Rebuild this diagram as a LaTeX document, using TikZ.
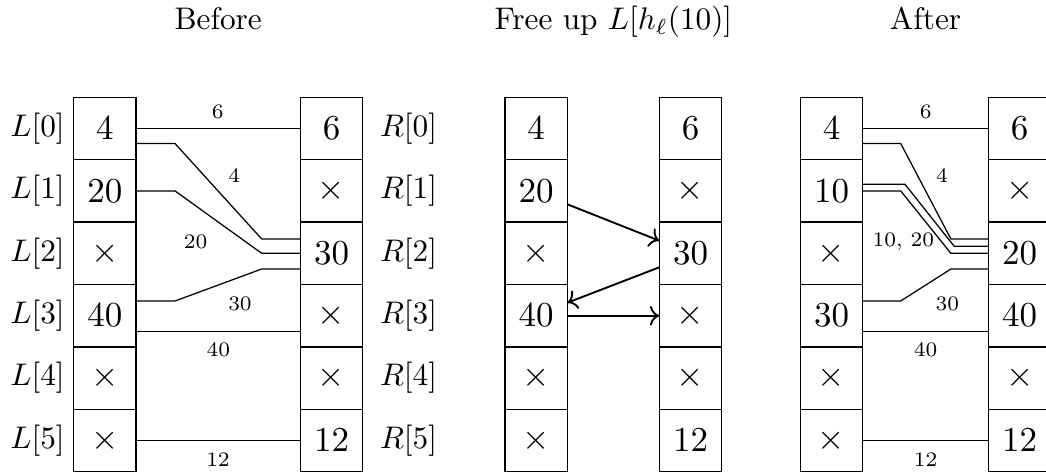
\RequirePackage{fix-cm}
\documentclass[tikz,border=0pt]{standalone}
\usepackage{fontspec}
\usetikzlibrary{calc,arrows.meta}
\begin{document}
\begin{tikzpicture}[x=0.32pt,y=-0.32pt,
  cell/.style={draw, rectangle, minimum width=19.97pt, minimum height=19.97pt,
    inner sep=0pt, outer sep=0pt, font=\fontsize{11.2}{13}\selectfont},
  side/.style={font=\fontsize{10}{12}\selectfont},
  title/.style={anchor=base, font=\fontsize{10}{12}\selectfont},
  lbl/.style={font=\fontsize{6.6}{8}\selectfont, inner sep=0pt},
  link/.style={line width=0.4pt},
  move/.style={semithick, -{To[length=3pt]}}]
\useasboundingbox (0,0) rectangle (1046,473);

% titles
\node[title] (tb) at (218.2,29.5) {Before};
\node[title] (tm) at (613.4,29.5) {Free up $L[h_\ell(10)]$};
\node[title] (ta) at (925.6,29.5) {After};

% cells: before
\foreach \t [count=\i from 0] in {4,20,\times,40,\times,\times}
  \node[cell] (bl\i) at (104.8,128.5+62.4*\i) {$\t$};
\foreach \t [count=\i from 0] in {6,\times,30,\times,\times,12}
  \node[cell] (br\i) at (331.6,128.5+62.4*\i) {$\t$};
% cells: middle
\foreach \t [count=\i from 0] in {4,20,\times,40,\times,\times}
  \node[cell] (ml\i) at (536.2,128.5+62.4*\i) {$\t$};
\foreach \t [count=\i from 0] in {6,\times,30,\times,\times,12}
  \node[cell] (mr\i) at (690.5,128.5+62.4*\i) {$\t$};
% cells: after
\foreach \t [count=\i from 0] in {4,10,\times,30,\times,\times}
  \node[cell] (al\i) at (831.5,128.5+62.4*\i) {$\t$};
\foreach \t [count=\i from 0] in {6,\times,20,40,\times,12}
  \node[cell] (ar\i) at (1019.7,128.5+62.4*\i) {$\t$};

% index labels
\foreach \i in {0,...,5} {
  \node[side] (sl\i) at (37.5,128.5+62.4*\i) {$L[\i]$};
  \node[side] (sr\i) at (408.5,128.5+62.4*\i) {$R[\i]$};
}

% before: links
\draw[link] (bl0.east) -- (br0.west);
\draw[link] ($(bl0.east)+(0,15)$) -- ++(39,0) -- ($(br2.west)+(-38.7,-14.3)$) -- ($(br2.west)+(0,-14.3)$);
\draw[link] (bl1.east) -- ++(39,0) -- ($(br2.west)+(-38.7,0)$) -- (br2.west);
\draw[link] ($(br2.west)+(0,15.7)$) -- ++(-38.7,0) -- ($(bl3.east)+(39,-14.7)$) -- ($(bl3.east)+(0,-14.7)$);
\draw[link] ($(bl3.east)+(0,16)$) -- ($(br3.west)+(0,16)$);
\draw[link] (bl5.east) -- (br5.west);
\node[lbl] (b6) at (217.7,111.7) {6};
\node[lbl] (b4) at (234.3,175.7) {4};
\node[lbl] (b20) at (195.7,241.7) {20};
\node[lbl] (b30) at (240,304) {30};
\node[lbl] (b40) at (218.3,350) {40};
\node[lbl] (b12) at (218,460) {12};

% middle: moves
\draw[move] ($(ml1.east)+(0,13.4)$) -- ($(mr2.west)+(0,-12.6)$);
\draw[move] ($(mr2.west)+(0,14)$) -- ($(ml3.east)+(0,-13)$);
\draw[move] (ml3.east) -- (mr3.west);

% after: links
\draw[link] (al0.east) -- (ar0.west);
\draw[link] ($(al0.east)+(0,15)$) -- ++(38,0) -- ($(ar2.west)+(-37.6,-14.3)$) -- ($(ar2.west)+(0,-14.3)$);
\draw[link] ($(al1.east)+(0,-6.6)$) -- ++(42.3,0) -- ($(ar2.west)+(-34.3,-7)$) -- ($(ar2.west)+(0,-7)$);
\draw[link] (al1.east) -- ++(38,0) -- ($(ar2.west)+(-37.6,0)$) -- (ar2.west);
\draw[link] ($(ar2.west)+(0,15.7)$) -- ++(-37.6,0) -- ($(al3.east)+(38,-14.7)$) -- ($(al3.east)+(0,-14.7)$);
\draw[link] ($(al3.east)+(0,16)$) -- ($(ar3.west)+(0,16)$);
\draw[link] (al5.east) -- (ar5.west);
\node[lbl] (a6) at (925.7,111.7) {6};
\node[lbl] (a4) at (942,175.7) {4};
\node[lbl] (a1020) at (903.3,241.7) {10, 20};
\node[lbl] (a30) at (947.3,304) {30};
\node[lbl] (a40) at (925.7,350) {40};
\node[lbl] (a12) at (925.7,460) {12};
\end{tikzpicture}
\end{document}
